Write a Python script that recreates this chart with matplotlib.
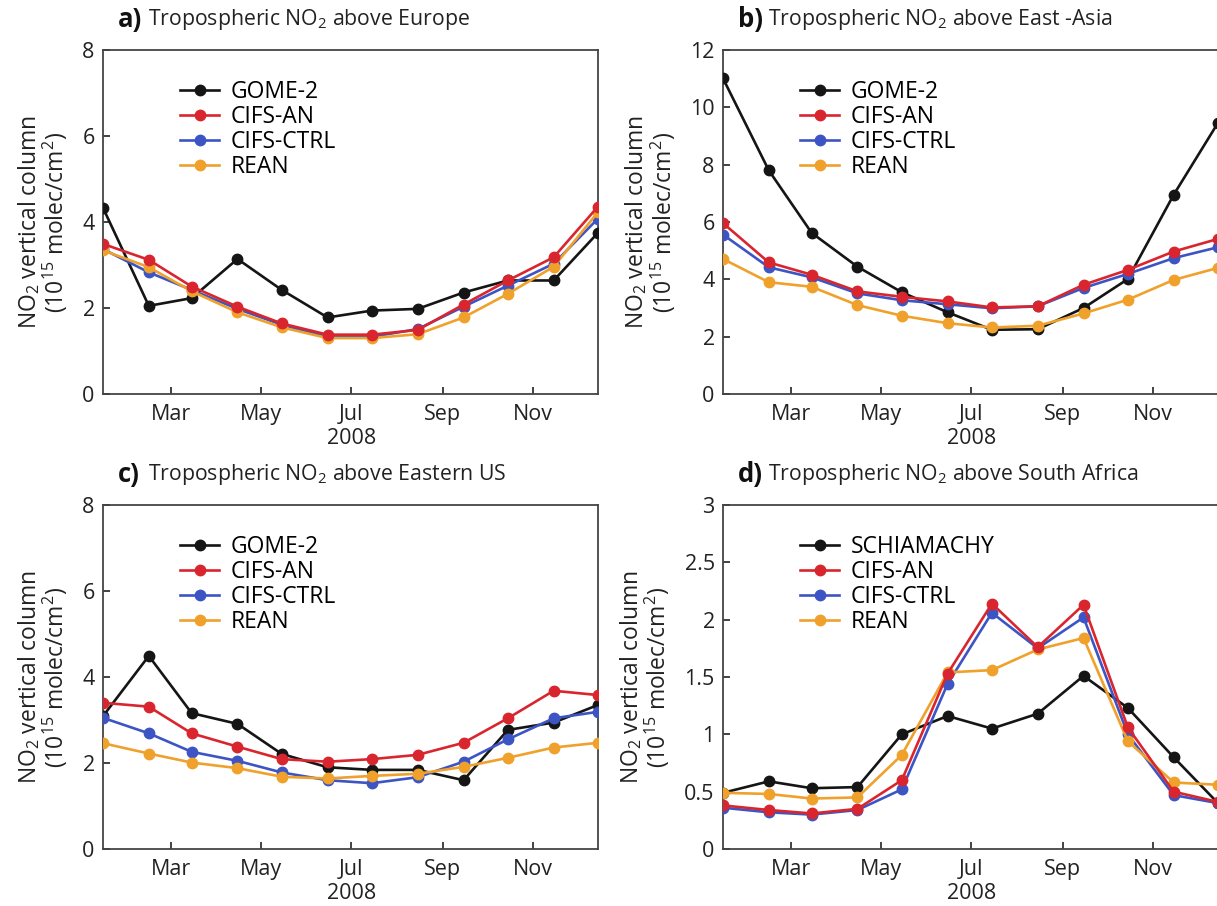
import datetime
import matplotlib
matplotlib.use("Agg")
import matplotlib.pyplot as plt

plt.rcParams['font.family'] = ['Open Sans', 'DejaVu Sans']
plt.rcParams['mathtext.fontset'] = 'custom'
plt.rcParams['mathtext.rm'] = 'Open Sans'
plt.rcParams['mathtext.it'] = 'Open Sans'

# monthly means, plotted mid-month
months = [datetime.date(2008, m, 15) for m in range(1, 13)]

eu_gome = [4.33, 2.05, 2.23, 3.14, 2.42, 1.78, 1.94, 1.98, 2.36, 2.64, 2.64, 3.75]
eu_an = [3.49, 3.12, 2.50, 2.03, 1.64, 1.38, 1.38, 1.49, 2.08, 2.64, 3.18, 4.36]
eu_ctrl = [3.37, 2.83, 2.42, 1.98, 1.61, 1.33, 1.33, 1.51, 2.03, 2.52, 3.03, 4.08]
eu_rean = [3.34, 2.95, 2.39, 1.90, 1.55, 1.30, 1.30, 1.39, 1.78, 2.33, 2.96, 4.23]

ea_gome = [11.01, 7.80, 5.62, 4.44, 3.55, 2.85, 2.24, 2.26, 3.00, 4.01, 6.95, 9.46]
ea_an = [5.96, 4.59, 4.16, 3.58, 3.39, 3.23, 3.02, 3.06, 3.81, 4.33, 4.97, 5.41]
ea_ctrl = [5.56, 4.42, 4.07, 3.51, 3.27, 3.13, 2.99, 3.06, 3.70, 4.19, 4.74, 5.12]
ea_rean = [4.71, 3.90, 3.74, 3.10, 2.73, 2.47, 2.32, 2.38, 2.81, 3.29, 3.98, 4.40]

us_gome = [3.09, 4.49, 3.16, 2.91, 2.21, 1.90, 1.84, 1.84, 1.60, 2.77, 2.94, 3.35]
us_an = [3.40, 3.31, 2.69, 2.38, 2.09, 2.03, 2.09, 2.19, 2.47, 3.04, 3.68, 3.58]
us_ctrl = [3.05, 2.69, 2.26, 2.05, 1.78, 1.60, 1.53, 1.67, 2.03, 2.55, 3.04, 3.19]
us_rean = [2.46, 2.22, 2.01, 1.88, 1.68, 1.64, 1.70, 1.75, 1.91, 2.12, 2.36, 2.47]

sa_sciamachy = [0.49, 0.59, 0.53, 0.54, 1.00, 1.16, 1.05, 1.18, 1.51, 1.23, 0.80, 0.40]
sa_an = [0.38, 0.34, 0.31, 0.35, 0.60, 1.53, 2.14, 1.76, 2.13, 1.06, 0.50, 0.41]
sa_ctrl = [0.36, 0.32, 0.30, 0.34, 0.52, 1.44, 2.06, 1.75, 2.02, 1.00, 0.47, 0.40]
sa_rean = [0.49, 0.48, 0.44, 0.45, 0.82, 1.54, 1.56, 1.74, 1.84, 0.94, 0.58, 0.56]

model_names = ['CIFS-AN', 'CIFS-CTRL', 'REAN']
colors = {'obs': '#151515', 'CIFS-AN': '#d9262e', 'CIFS-CTRL': '#3d55c4', 'REAN': '#f0a12c'}

panels = [
    ('a)', 'Europe', 'GOME-2', eu_gome, [eu_an, eu_ctrl, eu_rean], 8, [0, 2, 4, 6, 8]),
    ('b)', 'East -Asia', 'GOME-2', ea_gome, [ea_an, ea_ctrl, ea_rean], 12, [0, 2, 4, 6, 8, 10, 12]),
    ('c)', 'Eastern US', 'GOME-2', us_gome, [us_an, us_ctrl, us_rean], 8, [0, 2, 4, 6, 8]),
    ('d)', 'South Africa', 'SCHIAMACHY', sa_sciamachy, [sa_an, sa_ctrl, sa_rean], 3,
     [0, 0.5, 1, 1.5, 2, 2.5, 3]),
]

fig = plt.figure(figsize=(12.17, 9.06), dpi=100)
W, H = 1217, 906
boxes = [(103, 50), (723, 50), (103, 505), (723, 505)]
aw, ah = 495, 344

for (tag, region, obs_name, obs, models, ymax, yticks), (x0, y0) in zip(panels, boxes):
    ax = fig.add_axes([x0 / W, 1 - (y0 + ah) / H, aw / W, ah / H])
    ax.plot(months, obs, '-o', color=colors['obs'], lw=1.9, ms=7.5, label=obs_name, zorder=3)
    for name, vals, z in zip(model_names, models, [5, 4, 4.5]):
        ax.plot(months, vals, '-o', color=colors[name], lw=1.9, ms=7.5, label=name, zorder=z)
    ax.set_xlim(datetime.date(2008, 1, 15), datetime.date(2008, 12, 15))
    ax.set_ylim(0, ymax)
    ax.set_yticks(yticks)
    ax.set_yticklabels([('%g' % t) for t in yticks])
    ticks = [datetime.date(2008, m, 1) for m in (3, 5, 7, 9, 11)]
    ax.set_xticks(ticks)
    ax.set_xticklabels(['Mar', 'May', 'Jul\n2008', 'Sep', 'Nov'])
    ax.tick_params(direction='in', length=5, width=1.2, labelsize=15.5, colors='#222222',
                   pad=7)
    ax.tick_params(axis='y', pad=6)
    for sp in ax.spines.values():
        sp.set_linewidth(1.3)
        sp.set_color('#444444')
    ax.set_ylabel('NO$_2$ vertical column\n(10$^{15}$ molec/cm$^2$)', fontsize=16.5,
                  color='#222222', linespacing=0.95, labelpad=9)
    ax.text(0.03, 1.09, tag, transform=ax.transAxes, fontsize=18.5, fontweight='bold',
            va='center', ha='left', color='#111111')
    ax.text(0.091, 1.088, 'Tropospheric NO$_2$ above ' + region, transform=ax.transAxes,
            fontsize=15.3, va='center', ha='left', color='#222222')
    ax.legend(loc='upper left', bbox_to_anchor=(0.138, 0.94), frameon=False, fontsize=16.5,
              handlelength=1.7, handletextpad=0.5, labelspacing=0.05, borderaxespad=0)

fig.savefig('out.png', dpi=100)
